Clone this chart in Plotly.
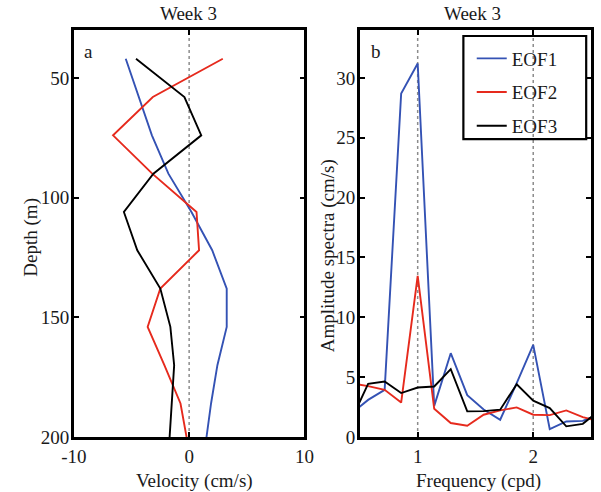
import plotly.graph_objects as go

# ---- Panel a: EOF velocity profiles ----
depth = [42, 58, 74, 90, 106, 122, 138, 154, 170, 186, 202]
vel_eof1 = [-5.5, -4.37, -3.23, -1.8, 0.2, 2.0, 3.26, 3.26, 2.45, 1.9, 1.45]
vel_eof2 = [2.92, -3.15, -6.6, -3.2, 0.64, 0.86, -2.5, -3.6, -2.15, -0.75, -0.15]
vel_eof3 = [-4.61, -0.41, 1.05, -3.1, -5.66, -4.5, -2.5, -1.63, -1.3, -1.5, -1.72]

# ---- Panel b: amplitude spectra ----
freq = [0.429, 0.571, 0.714, 0.857, 1.0, 1.143, 1.286, 1.429, 1.571, 1.714,
        1.857, 2.0, 2.143, 2.286, 2.429, 2.571]
amp_eof1 = [2.0, 3.1, 3.94, 28.7, 31.2, 2.6, 7.0, 3.5, 2.3, 1.44, 4.5, 7.7, 0.66, 1.3, 1.35, 1.9]
amp_eof2 = [4.47, 4.25, 3.94, 2.88, 13.47, 2.36, 1.17, 0.94, 1.86, 2.22, 2.47, 1.86, 1.83, 2.22, 1.66, 1.29]
amp_eof3 = [1.5, 4.44, 4.63, 3.67, 4.13, 4.22, 5.67, 2.14, 2.16, 2.28, 4.41, 3.03, 2.41, 0.89, 1.1, 2.2]

names = ["EOF1", "EOF2", "EOF3"]
colors = ["#3452b4", "#e62a1d", "#000000"]

x1_ticks = [-10, 0, 10]
x1_labels = ["-10", "0", "10"]
y1_ticks = [50, 100, 150, 200]
y1_labels = ["50", "100", "150", "200"]
x2_ticks = [1, 2]
x2_labels = ["1", "2"]
y2_ticks = [0, 5, 10, 15, 20, 25, 30]
y2_labels = ["0", "5", "10", "15", "20", "25", "30"]

FONT = "Liberation Serif, Times New Roman, serif"
FS = 19
TXT = "#1a1a1a"

fig = go.Figure()

for v, n, c in zip([vel_eof1, vel_eof2, vel_eof3], names, colors):
    fig.add_trace(go.Scatter(x=v, y=depth, mode="lines", name=n,
                             line=dict(color=c, width=1.9),
                             showlegend=False, xaxis="x", yaxis="y"))

for a, n, c in zip([amp_eof1, amp_eof2, amp_eof3], names, colors):
    fig.add_trace(go.Scatter(x=freq, y=a, mode="lines", name=n,
                             line=dict(color=c, width=1.9),
                             legendgroup=n, showlegend=True, xaxis="x2", yaxis="y2"))

axis_common = dict(showline=True, linecolor="black", linewidth=2.5, mirror="allticks",
                   ticks="inside", ticklen=5, tickwidth=1.5, tickcolor="black",
                   showgrid=False, zeroline=False,
                   tickfont=dict(family=FONT, size=FS, color=TXT))

fig.update_layout(
    width=601, height=492,
    margin=dict(l=0, r=0, t=30, b=55),
    paper_bgcolor="white", plot_bgcolor="white",
    font=dict(family=FONT, size=FS, color=TXT),
    xaxis=dict(domain=[0.1053, 0.5042], range=[-10, 10], anchor="y",
               tickvals=x1_ticks, ticktext=x1_labels, **axis_common),
    yaxis=dict(domain=[0, 1], range=[200, 30], anchor="x", ticklabelstandoff=-2,
               tickvals=y1_ticks, ticktext=y1_labels, **axis_common),
    xaxis2=dict(domain=[0.6002, 1.0], range=[0.5, 2.5], anchor="y2",
                tickvals=x2_ticks, ticktext=x2_labels, **axis_common),
    yaxis2=dict(domain=[0, 1], range=[0, 34], anchor="x2", ticklabelstandoff=-2,
                tickvals=y2_ticks, ticktext=y2_labels, **axis_common),
    legend=dict(x=477 / 601, xanchor="left", y=0.9767, yanchor="top",
                bgcolor="rgba(0,0,0,0)", borderwidth=0,
                tracegroupgap=6, traceorder="grouped",
                font=dict(family=FONT, size=FS, color=TXT)),
)

# dotted reference lines
dot = dict(color="#8c8c8c", width=1.5, dash="dot")
fig.add_shape(type="line", xref="x", yref="y domain", x0=0, x1=0, y0=0, y1=1,
              line=dot, layer="below")
for xv in x2_ticks:
    fig.add_shape(type="line", xref="x2", yref="y2 domain", x0=xv, x1=xv, y0=0, y1=1,
                  line=dot, layer="below")

# legend box
fig.add_shape(type="rect", xref="paper", yref="paper",
              x0=468.3 / 601, x1=596 / 601,
              y0=(437.3 - 139.3) / 407.3, y1=(437.3 - 36) / 407.3,
              line=dict(color="black", width=2.2), fillcolor="rgba(0,0,0,0)", layer="above")

def ann(text, x, y, angle=0):
    fig.add_annotation(text=text, x=x / 601, y=(437.3 - y) / 407.3, xref="paper", yref="paper",
                       showarrow=False, textangle=angle, xanchor="center", yanchor="middle",
                       font=dict(family=FONT, size=FS, color=TXT))

ann("Week 3", 183, 13.5)
ann("Week 3", 477.5, 13.5)
ann("a", 79, 52)
ann("b", 377, 52)
ann("Depth (m)", 18.5, 237, -90)
ann("Amplitude spectra (cm/s)", 327, 256, -90)
ann("Velocity (cm/s)", 189, 481)
ann("Frequency (cpd)", 484, 481)

fig.write_html("out.html", config={"displayModeBar": False},
               post_script="document.body.style.margin='0';document.body.style.overflow='hidden';")
